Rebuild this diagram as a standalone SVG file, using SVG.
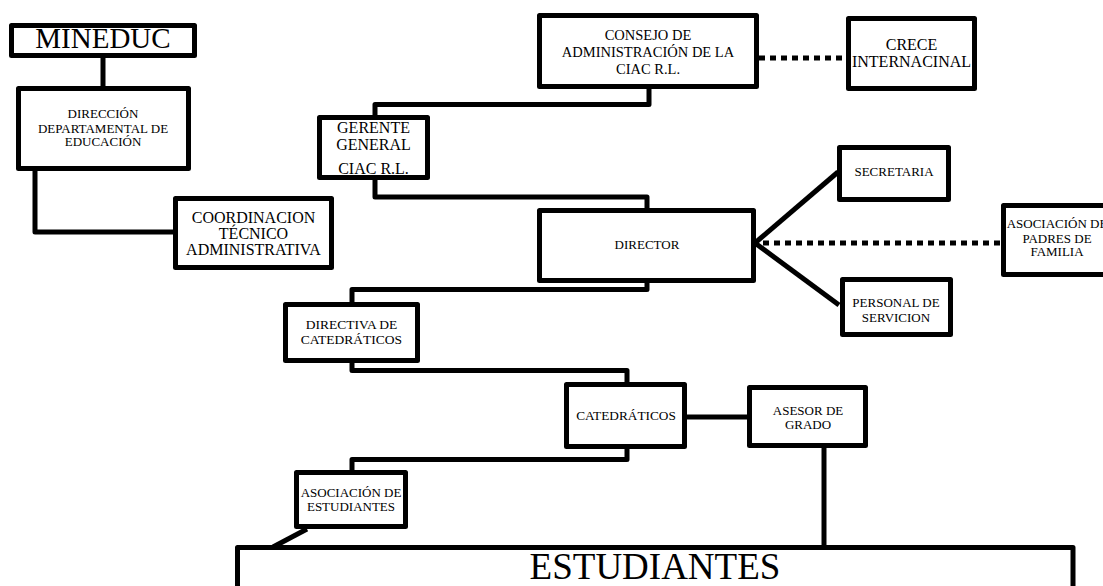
<svg xmlns="http://www.w3.org/2000/svg" width="1103" height="586" viewBox="0 0 1103 586">
<style>
.box{fill:#fff;stroke:#000;stroke-width:5;stroke-linejoin:round}
.ln{fill:none;stroke:#000;stroke-width:5;stroke-linejoin:round}
.dot{fill:none;stroke:#000;stroke-width:5;stroke-dasharray:6 5}
text{font-family:"Liberation Serif","Times New Roman",serif;fill:#000;text-anchor:middle;font-size:13px}
</style>
<rect width="1103" height="586" fill="#fff"/>
<g id="connectors">
<path class="ln" d="M103,58 V86"/>
<path class="ln" d="M35,171 V232 H173"/>
<path class="ln" d="M649,89 V104.5 H375 V115"/>
<path class="dot" d="M759,58 H846"/>
<path class="ln" d="M375,180 V197 H647 V208"/>
<path class="ln" d="M755,243 L838,172"/>
<path class="ln" d="M755,243 L839,305"/>
<path class="dot" d="M763,243 H1001"/>
<path class="ln" d="M647,283 V289.5 H352 V302"/>
<path class="ln" d="M352,363 V370.5 H627 V382"/>
<path class="ln" d="M687,417 H747"/>
<path class="ln" d="M627,449 V459.5 H352 V470"/>
<path class="ln" d="M824,448 V547"/>
<path class="ln" d="M307,529 L273,547"/>
</g>
<g id="mineduc"><rect class="box" x="11.5" y="25.5" width="183" height="30"/><text x="103" y="48" style="font-size:29px">MINEDUC</text></g>
<g id="direccion"><rect class="box" x="18.5" y="88.5" width="170" height="80"/><text x="103" y="118">DIRECCIÓN</text><text x="103" y="132.5">DEPARTAMENTAL DE</text><text x="103" y="146">EDUCACIÓN</text></g>
<g id="coordinacion"><rect class="box" x="175.5" y="198.5" width="156" height="69"/><text x="253.5" y="223" style="font-size:16px">COORDINACION</text><text x="253.5" y="239" style="font-size:16px">TÉCNICO</text><text x="253.5" y="255" style="font-size:16px">ADMINISTRATIVA</text></g>
<g id="consejo"><rect class="box" x="539.5" y="15.5" width="217" height="71"/><text x="648" y="39.5" style="font-size:14.5px">CONSEJO DE</text><text x="648" y="56.5" style="font-size:14.5px">ADMINISTRACIÓN DE LA</text><text x="648" y="74" style="font-size:14.5px">CIAC R.L.</text></g>
<g id="crece"><rect class="box" x="848.5" y="18.5" width="126" height="70"/><text x="911.5" y="50" style="font-size:16px">CRECE</text><text x="911.5" y="67" style="font-size:16px">INTERNACINAL</text></g>
<g id="gerente"><rect class="box" x="319.5" y="117.5" width="108" height="60"/><text x="373.5" y="133" style="font-size:16px">GERENTE</text><text x="373.5" y="150" style="font-size:16px">GENERAL</text><text x="373.5" y="174" style="font-size:16px">CIAC R.L.</text></g>
<g id="secretaria"><rect class="box" x="839.5" y="147.5" width="109" height="52"/><text x="894" y="176">SECRETARIA</text></g>
<g id="director"><rect class="box" x="539.5" y="210.5" width="214" height="70"/><text x="647" y="249">DIRECTOR</text></g>
<g id="padres"><rect class="box" x="1003.5" y="205.5" width="106" height="69"/><text x="1057" y="228">ASOCIACIÓN DE</text><text x="1057" y="243">PADRES DE</text><text x="1057" y="256">FAMILIA</text></g>
<g id="personal"><rect class="box" x="842.5" y="279.5" width="108" height="55"/><text x="896" y="307">PERSONAL DE</text><text x="896" y="322">SERVICION</text></g>
<g id="directiva"><rect class="box" x="285.5" y="304.5" width="132" height="56"/><text x="351.5" y="329" style="font-size:13.5px">DIRECTIVA DE</text><text x="351.5" y="343.5" style="font-size:13.5px">CATEDRÁTICOS</text></g>
<g id="catedraticos"><rect class="box" x="566.5" y="384.5" width="118" height="62"/><text x="626" y="420" style="font-size:13.3px">CATEDRÁTICOS</text></g>
<g id="asesor"><rect class="box" x="749.5" y="387.5" width="116" height="58"/><text x="808" y="415">ASESOR DE</text><text x="808" y="429">GRADO</text></g>
<g id="asoc-estudiantes"><rect class="box" x="296.5" y="472.5" width="109" height="54"/><text x="351" y="497">ASOCIACIÓN DE</text><text x="351" y="511">ESTUDIANTES</text></g>
<g id="estudiantes"><rect class="box" x="237.5" y="547.5" width="835.5" height="60"/><text x="655" y="579" style="font-size:37px">ESTUDIANTES</text></g>
</svg>
